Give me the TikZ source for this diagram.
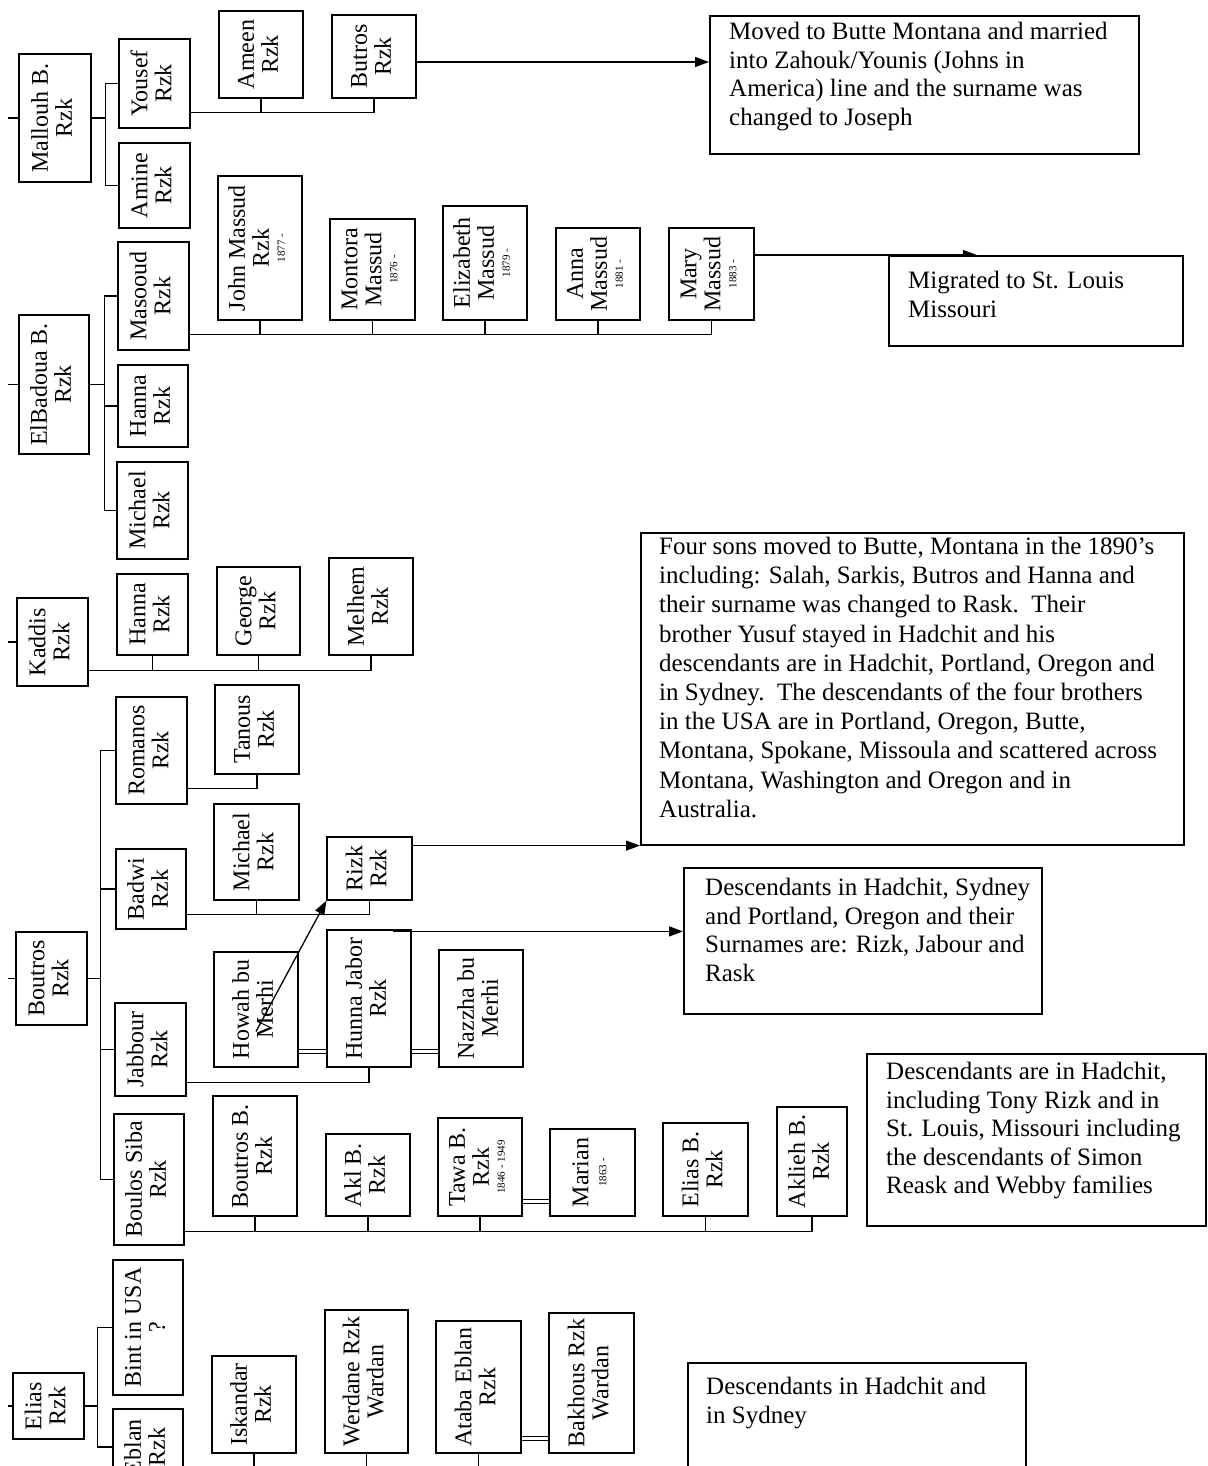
\documentclass[tikz,border=0pt]{standalone}
\usepackage{fontspec}
\setmainfont{Liberation Serif}
\usepackage{graphicx}
\usetikzlibrary{arrows.meta,backgrounds}
\newcommand{\vname}[1]{\rotatebox{90}{\begin{tabular}{@{}c@{}}#1\end{tabular}}}
\newcommand{\lifespan}[1]{{\fontsize{11}{11}\selectfont #1}}
\newcommand{\namefont}{\fontsize{24}{24}\selectfont}
\newcommand{\notefont}{\fontsize{25}{28.5}\selectfont}
\begin{document}
\begin{tikzpicture}[x=1pt,y=-1pt,
  person/.style={draw, line width=1.2pt, inner sep=0pt, font=\namefont},
  callout/.style={draw, line width=1.6pt, fill=white, anchor=north west, inner sep=0pt},
  note/.style={anchor=north west, inner sep=0pt, align=left, font=\notefont},
  link/.style={line width=1.3pt},
  spouse/.style={double, double distance=2.6pt, line width=0.9pt},
  arr/.style={line width=1.3pt, -{Triangle[length=14pt,width=10pt]}}]
\useasboundingbox (0,0) rectangle (1207,1466);
\clip (0,0) rectangle (1207,1466);

% Mallouh B.
\node[person, minimum width=72, minimum height=128] (mallouh) at (55,118) {\vname{Mallouh B.\\Rzk}};
\node[person, minimum width=71, minimum height=89] (yousef) at (154.5,83.5) {\vname{Yousef\\Rzk}};
\node[person, minimum width=71, minimum height=85] (amine) at (154.5,185.5) {\vname{Amine\\Rzk}};
\node[person, minimum width=84, minimum height=87] (ameen) at (261,54.5) {\vname{Ameen\\Rzk}};
\node[person, minimum width=84, minimum height=83] (butros) at (374,56.5) {\vname{Butros\\Rzk}};

% ElBadoua B.
\node[person, minimum width=70, minimum height=139] (elbadoua) at (54,384.5) {\vname{ElBadoua B.\\Rzk}};
\node[person, minimum width=71, minimum height=108] (masooud) at (153.5,296) {\vname{Masooud\\Rzk}};
\node[person, minimum width=70, minimum height=82] (hannaa) at (153,406) {\vname{Hanna\\Rzk}};
\node[person, minimum width=71, minimum height=97] (michaela) at (152.5,510.5) {\vname{Michael\\Rzk}};
\node[person, minimum width=84, minimum height=144] (john) at (260,248) {\vname{John Massud\\Rzk\\[-8pt]\lifespan{1877 -}}};
\node[person, minimum width=85, minimum height=101] (montora) at (372.5,269.5) {\vname{Montora\\Massud\\[-8pt]\lifespan{1876 -}}};
\node[person, minimum width=84, minimum height=114] (elizabeth) at (485,263) {\vname{Elizabeth\\Massud\\[-8pt]\lifespan{1879 -}}};
\node[person, minimum width=84, minimum height=92] (anna) at (598,274) {\vname{Anna\\Massud\\[-8pt]\lifespan{1881 -}}};
\node[person, minimum width=85, minimum height=92] (mary) at (711.5,274) {\vname{Mary\\Massud\\[-8pt]\lifespan{1883 -}}};

% Kaddis
\node[person, minimum width=71, minimum height=88] (kaddis) at (52.5,642) {\vname{Kaddis\\Rzk}};
\node[person, minimum width=71, minimum height=81] (hannab) at (152.5,614.5) {\vname{Hanna\\Rzk}};
\node[person, minimum width=83, minimum height=88] (george) at (258.5,611) {\vname{George\\Rzk}};
\node[person, minimum width=84, minimum height=97] (melhem) at (371,606.5) {\vname{Melhem\\Rzk}};

% Boutros
\node[person, minimum width=71, minimum height=93] (boutros) at (51.5,978.5) {\vname{Boutros\\Rzk}};
\node[person, minimum width=71, minimum height=107] (romanos) at (151.5,750.5) {\vname{Romanos\\Rzk}};
\node[person, minimum width=84, minimum height=89] (tanous) at (257,729.5) {\vname{Tanous\\Rzk}};
\node[person, minimum width=70, minimum height=80] (badwi) at (151,889) {\vname{Badwi\\Rzk}};
\node[person, minimum width=85, minimum height=96] (michaelb) at (256.5,852) {\vname{Michael\\Rzk}};
\node[person, minimum width=85, minimum height=63] (rizk) at (369.5,868.5) {\vname{Rizk\\Rzk}};
\node[person, minimum width=71, minimum height=93] (jabbour) at (150.5,1049.5) {\vname{Jabbour\\Rzk}};
\node[person, minimum width=84, minimum height=115] (howah) at (256,1009.5) {\vname{Howah bu\\Merhi}};
\node[person, minimum width=84, minimum height=137] (hunna) at (369,998.5) {\vname{Hunna Jabor\\Rzk}};
\node[person, minimum width=84, minimum height=117] (nazzha) at (481,1008.5) {\vname{Nazzha bu\\Merhi}};
\node[person, minimum width=70, minimum height=131] (boulos) at (149,1179.5) {\vname{Boulos Siba\\Rzk}};
\node[person, minimum width=84, minimum height=120] (boutrosb) at (255,1156) {\vname{Boutros B.\\Rzk}};
\node[person, minimum width=84, minimum height=82] (aklb) at (368,1175) {\vname{Akl B.\\Rzk}};
\node[person, minimum width=84, minimum height=98] (tawab) at (480,1167) {\vname{Tawa B.\\Rzk\\[-8pt]\lifespan{1846 - 1949}}};
\node[person, minimum width=85, minimum height=87] (marian) at (592.5,1172.5) {\vname{Marian\\[-6pt]\lifespan{1863 -}}};
\node[person, minimum width=85, minimum height=93] (eliasb) at (705.5,1169.5) {\vname{Elias B.\\Rzk}};
\node[person, minimum width=70, minimum height=109] (aklieh) at (812,1161.5) {\vname{Aklieh B.\\Rzk}};

% Elias
\node[person, minimum width=71, minimum height=66] (elias) at (48.5,1406) {\vname{Elias\\Rzk}};
\node[person, minimum width=70, minimum height=135] (bint) at (148,1327.5) {\vname{Bint in USA\\?}};
\node[person, minimum width=70, minimum height=76] (eblan) at (148,1447) {\vname{Eblan\\Rzk}};
\node[person, minimum width=84, minimum height=97] (iskandar) at (254,1404.5) {\vname{Iskandar\\Rzk}};
\node[person, minimum width=83, minimum height=143] (werdane) at (366.5,1381.5) {\vname{Werdane Rzk\\Wardan}};
\node[person, minimum width=85, minimum height=132] (ataba) at (478.5,1387) {\vname{Ataba Eblan\\Rzk}};
\node[person, minimum width=85, minimum height=140] (bakhous) at (591.5,1383) {\vname{Bakhous Rzk\\Wardan}};

% notes
\node[callout, minimum width=429, minimum height=138] (moved) at (709,15) {};
\node[note] (movedtxt) at (729,22) {Moved to Butte Montana and married\\into Zahouk/Younis (Johns in\\America) line and the surname was\\changed to Joseph};
\node[callout, minimum width=294, minimum height=90] (stlouis) at (888,255) {};
\node[note] (stlouistxt) at (908,271) {Migrated to St. Louis\\Missouri};
\node[callout, minimum width=543, minimum height=312] (foursons) at (640,532) {};
\node[note, font=\fontsize{25}{29.2}\selectfont] (foursonstxt) at (659,537) {Four sons moved to Butte, Montana in the 1890’s\\including: Salah, Sarkis, Butros and Hanna and\\their surname was changed to Rask.\ \ Their\\brother Yusuf stayed in Hadchit and his\\descendants are in Hadchit, Portland, Oregon and\\in Sydney.\ \ The descendants of the four brothers\\in the USA are in Portland, Oregon, Butte,\\Montana, Spokane, Missoula and scattered across\\Montana, Washington and Oregon and in\\Australia.};
\node[callout, minimum width=358, minimum height=146] (surnames) at (683,867) {};
\node[note] (surnamestxt) at (705,878) {Descendants in Hadchit, Sydney\\and Portland, Oregon and their\\Surnames are: Rizk, Jabour and\\Rask};
\node[callout, minimum width=339, minimum height=172] (webby) at (866,1053) {};
\node[note] (webbytxt) at (886,1062) {Descendants are in Hadchit,\\including Tony Rizk and in\\St. Louis, Missouri including\\the descendants of Simon\\Reask and Webby families};
\node[callout, minimum width=338, minimum height=130] (sydney) at (687,1362) {};
\node[note] (sydneytxt) at (706,1377) {Descendants in Hadchit and\\in Sydney};

% stubs to the left
\coordinate (mallouhin) at (8,118);
\coordinate (elbadouain) at (8,384.5);
\coordinate (kaddisin) at (8,642);
\coordinate (boutrosin) at (8,978.5);
\coordinate (eliasin) at (8,1406);
\draw[link] (mallouhin) -- (mallouh.west);
\draw[link] (elbadouain) -- (elbadoua.west);
\draw[link] (kaddisin) -- (kaddis.west);
\draw[link] (boutrosin) -- (boutros.west);
\draw[link] (eliasin) -- (elias.west);

% sons
\coordinate (mbus) at ([xshift=14pt]mallouh.east);
\draw[link] (mallouh.east) -- (mbus);
\draw[link] (yousef.west) -| (mbus) |- (amine.west);
\coordinate (ebus) at ([xshift=15pt]elbadoua.east);
\draw[link] (elbadoua.east) -- (ebus);
\draw[link] (masooud.west) -| (ebus) |- (michaela.west);
\draw[link] (hannaa.west) -- (hannaa.west -| ebus);
\coordinate (bbus) at ([xshift=13pt]boutros.east);
\draw[link] (boutros.east) -- (bbus);
\draw[link] (romanos.west) -| (bbus) |- (boulos.west);
\draw[link] (badwi.west) -- (badwi.west -| bbus);
\draw[link] (jabbour.west) -- (jabbour.west -| bbus);
\coordinate (lbus) at ([xshift=13pt]elias.east);
\draw[link] (elias.east) -- (lbus);
\draw[link] (bint.west) -| (lbus) |- (eblan.west);

% grandchildren
\coordinate (ykids) at ([yshift=16pt]yousef.south east);
\draw[link] (ykids) -| (butros.south);
\draw[link] (ameen.south) -- (ameen.south |- ykids);
\coordinate (mkids) at ([yshift=16pt]masooud.south east);
\draw[link] (mkids) -| (mary.south);
\foreach \kid in {john,montora,elizabeth,anna}
  \draw[link] (\kid.south) -- (\kid.south |- mkids);
\coordinate (kkids) at ([yshift=16pt]kaddis.south east);
\draw[link] (kkids) -| (melhem.south);
\foreach \kid in {hannab,george}
  \draw[link] (\kid.south) -- (\kid.south |- kkids);
\coordinate (rkids) at ([yshift=16pt]romanos.south east);
\draw[link] (rkids) -| (tanous.south);
\coordinate (bkids) at ([yshift=15pt]badwi.south east);
\draw[link] (bkids) -| (rizk.south);
\draw[link] (michaelb.south) -- (michaelb.south |- bkids);
\coordinate (jkids) at ([yshift=14pt]jabbour.south east);
\draw[link] (jkids) -| (hunna.south);
\coordinate (skids) at ([yshift=14pt]boulos.south east);
\draw[link] (skids) -| (aklieh.south);
\foreach \kid in {boutrosb,aklb,tawab,eliasb}
  \draw[link] (\kid.south) -- (\kid.south |- skids);
\foreach \kid in {iskandar,werdane,ataba}
  \draw[link] (\kid.south) -- ++(0,30);

% marriages
\coordinate (hw) at ([yshift=16pt]howah.south east);
\draw[spouse] (hw) -- (hw -| hunna.west);
\coordinate (hn) at ([yshift=16pt]hunna.south east);
\draw[spouse] (hn) -- (hn -| nazzha.west);
\coordinate (tm) at ([yshift=15pt]tawab.south east);
\draw[spouse] (tm) -- (tm -| marian.west);
\coordinate (ab) at ([yshift=15pt]ataba.south east);
\draw[spouse] (ab) -- (ab -| bakhous.west);

% arrows to the notes
\coordinate (bt) at ([yshift=-5.5pt]butros.east);
\draw[arr] (bt) -- (bt -| moved.west);
\coordinate (mt) at ([yshift=19pt]mary.east);
\coordinate (stltip) at ([xshift=-59pt]stlouis.north);
\begin{scope}[on background layer]
\draw[arr] (mt) -- (stltip);
\end{scope}
\coordinate (rt) at (rizk.east |- foursons.south west);
\draw[arr] (rt) -- (foursons.south west);
\draw[arr] ([yshift=-22pt]howah.center) -- (rizk.south west);
\coordinate (ht) at ([xshift=-19pt,yshift=-2pt]hunna.north east);
\draw[arr] (ht) -- (ht -| surnames.west);
\end{tikzpicture}
\end{document}
